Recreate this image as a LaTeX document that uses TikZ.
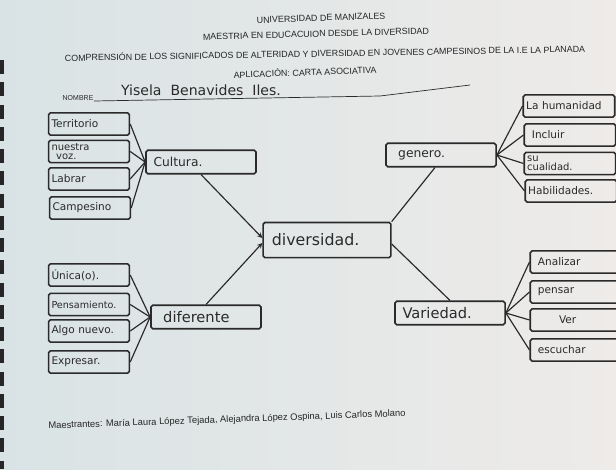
\documentclass[tikz,border=0pt]{standalone}
\usepackage{fontspec}
\setmainfont{Liberation Sans}
\newfontfamily\handfont{DejaVu Sans}
\usepackage{xcolor}
\usetikzlibrary{calc}
\usetikzlibrary{arrows}

\definecolor{pencil}{HTML}{2A2A2A}
\definecolor{paperL}{HTML}{D9E3E5}
\definecolor{paperM}{HTML}{E2E8E8}
\definecolor{paperR}{HTML}{EEEBE9}

\tikzset{
  card/.style={draw=pencil, line width=1.4pt, rounded corners=1.5pt, inner sep=2.5pt,
    align=left, text=pencil, text width=64pt, minimum height=19pt,
    font=\handfont\fontsize{9}{8.5}\selectfont},
  rcard/.style={card, text width=73pt},
  hub/.style={card, text width=89pt, minimum height=20pt,
    font=\handfont\fontsize{10.5}{10}\selectfont},
  print/.style={font=\fontsize{7.6}{8}\selectfont, text=black!85, rotate=2, inner sep=0pt},
  link/.style={pencil, line width=1pt},
}

\begin{document}
\begin{tikzpicture}[x=0.03cm, y=-0.03cm]
		\useasboundingbox (0,0) rectangle (616,469);
		\shade[left color=paperL, middle color=paperM, right color=paperR] (0,0) rectangle (616,469);
		\draw[black!85, line width=3pt, dash pattern=on 12pt off 7pt] (2,60) -- (2,469);

		% heading
		\node[print] (uni) at (321,18) {UNIVERSIDAD DE MANIZALES};
		\node[print, rotate=-0.5] (maes) at (316,34) {MAESTRIA EN EDUCACUION DESDE LA DIVERSIDAD};
		\node[print, rotate=-1] (comp) at (325,53) {COMPRENSIÓN DE LOS SIGNIFICADOS DE ALTERIDAD Y DIVERSIDAD EN JOVENES CAMPESINOS DE LA I.E LA PLANADA};
		\node[print] (apli) at (305,72) {APLICACIÓN: CARTA ASOCIATIVA};
		\node[print, font=\fontsize{6}{6}\selectfont] (nom) at (78,98) {NOMBRE};
		\node[text=pencil, font=\handfont\fontsize{12}{12}\selectfont, inner sep=0pt] (name) at (201,90) {Yisela \ Benavides \ Iles.};
		\draw[pencil, line width=0.6pt] (94,101) -- (380,96) -- (470,85);

		% center
		\node[hub, text width=104pt, minimum height=30pt,
		  font=\handfont\fontsize{13.5}{13}\selectfont] (divers) at (327,240) {\hspace{5pt}diversidad.};

		% Cultura
		\node[hub] (cultura) at (201,162) {\hspace{4pt}Cultura.};
		\node[card] (terr) at (89,124) {Territorio};
		\node[card, font=\handfont\fontsize{8.5}{7.5}\selectfont] (voz) at (89,151.5) {nuestra\\\hspace{4pt}voz.};
		\node[card] (labrar) at (89,179) {Labrar};
		\node[card] (campe) at (90,208) {Campesino};

		% diferente
		\node[hub, font=\handfont\fontsize{12.5}{12}\selectfont] (difer) at (206,317) {\hspace{8pt}diferente};
		\node[card] (unica) at (89,275) {Única(o).};
		\node[card, font=\handfont\fontsize{8.2}{8}\selectfont] (pensam) at (89,304.5) {Pensamiento.};
		\node[card] (algo) at (89,331) {Algo nuevo.};
		\node[card] (expre) at (89,362) {Expresar.};

		% genero
		\node[hub] (genero) at (441,155) {\hspace{8pt}genero.};
		\node[rcard] (humani) at (569,106) {La humanidad};
		\node[rcard] (incluir) at (570,135) {\hspace{4pt}Incluir};
		\node[rcard, font=\handfont\fontsize{8.5}{7.5}\selectfont] (cuali) at (570,163.5) {su\\cualidad.};
		\node[rcard] (habil) at (571,191) {Habilidades.};

		% Variedad
		\node[hub, font=\handfont\fontsize{12.5}{12}\selectfont] (varie) at (450,313) {\hspace{4pt}Variedad.};
		\node[rcard] (anali) at (576,262) {\hspace{4pt}Analizar};
		\node[rcard] (pensar) at (576,292) {\hspace{4pt}pensar};
		\node[rcard] (ver) at (576,320) {\hspace{22pt}Ver};
		\node[rcard] (escu) at (576,350) {\hspace{4pt}escuchar};

		% links
		\foreach \n in {terr,voz,labrar,campe}
		  \draw[link] (\n.east) -- (cultura.west);
		\foreach \n in {unica,pensam,algo,expre}
		  \draw[link] (\n.east) -- (difer.west);
		\foreach \n in {humani,incluir,cuali,habil}
		  \draw[link] (genero.east) -- (\n.west);
		\foreach \n in {anali,pensar,ver,escu}
		  \draw[link] (varie.east) -- (\n.west);
		\draw[link, ->, >=stealth] (cultura.south) -- ($(divers.west)+(0,-2)$);
		\draw[link, ->, >=stealth] (difer.north) -- ($(divers.west)+(0,3)$);
		\draw[link] (divers.north east) -- ($(genero.south)+(-6,0)$);
		\draw[link] ($(divers.east)+(0,4)$) -- (varie.north);

		% footer
		\node[print, font=\fontsize{8}{8}\selectfont] (maestr) at (227,420) {Maestrantes: María Laura López Tejada, Alejandra López Ospina, Luis Carlos Molano};
\end{tikzpicture}
\end{document}
